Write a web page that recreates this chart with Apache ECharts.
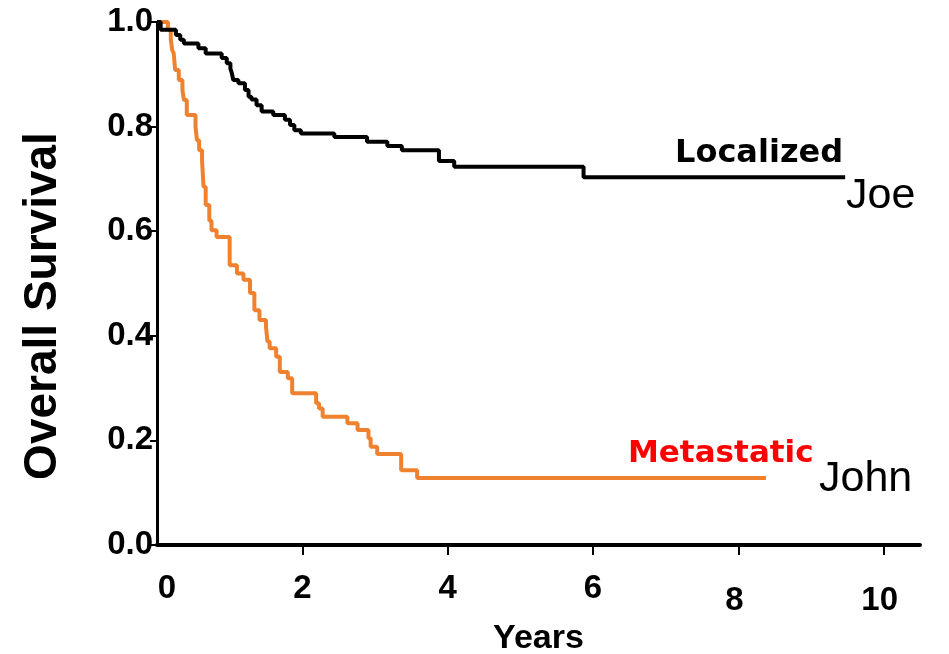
<!DOCTYPE html>
<html lang="en">
<head>
  <meta charset="UTF-8">
  <title>Overall Survival</title>
  <script src="https://cdn.jsdelivr.net/npm/echarts@6/dist/echarts.min.js"></script>
  <style>
    html, body { margin: 0; padding: 0; background: #fff; }
    #main { width: 949px; height: 654px; }
  </style>
</head>
<body>
  <div id="main"></div>
  <script>
    // Localized (Joe) - Kaplan-Meier steps
    var locTime = [0, 0.05, 0.26, 0.32, 0.37, 0.57, 0.67, 0.89, 0.96, 1.01, 1.03, 1.05, 1.12, 1.21, 1.26, 1.30, 1.37, 1.44, 1.60, 1.76, 1.83, 1.89, 1.98, 2.44, 2.89, 3.17, 3.37, 3.88, 4.09, 5.87, 9.47];
    var locSurv = [1.0, 0.985, 0.975, 0.966, 0.959, 0.950, 0.940, 0.931, 0.921, 0.911, 0.902, 0.889, 0.883, 0.870, 0.857, 0.852, 0.841, 0.829, 0.822, 0.813, 0.803, 0.793, 0.787, 0.780, 0.771, 0.763, 0.755, 0.734, 0.723, 0.703, 0.703];

    // Metastatic (John)
    var metTime = [0, 0.15, 0.19, 0.21, 0.23, 0.25, 0.30, 0.35, 0.37, 0.41, 0.53, 0.55, 0.58, 0.62, 0.64, 0.67, 0.72, 0.75, 0.82, 1.0, 1.10, 1.19, 1.28, 1.34, 1.41, 1.50, 1.52, 1.55, 1.64, 1.69, 1.80, 1.86, 2.19, 2.23, 2.28, 2.62, 2.76, 2.91, 2.94, 3.03, 3.36, 3.58, 8.38];
    var metSurv = [1.0, 0.985, 0.966, 0.946, 0.940, 0.908, 0.889, 0.870, 0.851, 0.822, 0.800, 0.774, 0.755, 0.735, 0.685, 0.650, 0.620, 0.602, 0.589, 0.535, 0.519, 0.507, 0.482, 0.449, 0.430, 0.417, 0.389, 0.376, 0.360, 0.331, 0.319, 0.290, 0.271, 0.261, 0.245, 0.233, 0.220, 0.204, 0.188, 0.174, 0.143, 0.128, 0.128];

    var xTicks = [0, 2, 4, 6, 8, 10];

    function pairs(t, s) {
      var out = [];
      for (var i = 0; i < t.length; i++) out.push([t[i], s[i]]);
      return out;
    }

    var tickFont = { fontFamily: 'Liberation Sans', fontWeight: 'bold', fontSize: 33, color: '#000' };

    var chart = echarts.init(document.getElementById('main'));
    var opt = {
      backgroundColor: '#fff',
      animation: false,
      grid: { left: 157, right: 29, top: 22, bottom: 109, outerBoundsMode: 'none' },
      xAxis: {
        type: 'value',
        min: 0,
        max: 10.5,
        interval: 2,
        name: 'Years',
        nameLocation: 'middle',
        nameGap: 60,
        nameTextStyle: { fontFamily: 'Liberation Sans', fontWeight: 'bold', fontSize: 34, color: '#000' },
        splitLine: { show: false },
        axisLine: { lineStyle: { color: '#000', width: 4 } },
        axisTick: { length: 10, lineStyle: { color: '#000', width: 2 }, customValues: [2, 4, 6, 8, 10] },
        axisLabel: {
          customValues: xTicks,
          margin: 27,
          formatter: function (v) {
            if (v === 0) return '{z|0}';
            if (v >= 8) return '{lo|' + v + '}';
            return '{n|' + v + '}';
          },
          rich: {
            n: tickFont,
            z: Object.assign({ padding: [0, 0, 0, 20] }, tickFont),
            lo: Object.assign({ padding: [12, 8, 0, 0] }, tickFont)
          }
        }
      },
      yAxis: {
        type: 'value',
        min: 0,
        max: 1,
        interval: 0.2,
        splitLine: { show: false },
        axisLine: { lineStyle: { color: '#000', width: 3 } },
        axisTick: { length: 7, lineStyle: { color: '#000', width: 2 } },
        axisLabel: Object.assign({
          margin: 4,
          formatter: function (v) { return v.toFixed(1); }
        }, tickFont)
      },
      series: [
        {
          name: 'Localized',
          type: 'line',
          step: 'end',
          showSymbol: false,
          lineStyle: { color: '#000', width: 4 },
          data: pairs(locTime, locSurv),
          z: 3
        },
        {
          name: 'Metastatic',
          type: 'line',
          step: 'end',
          showSymbol: false,
          lineStyle: { color: '#f0822f', width: 4 },
          data: pairs(metTime, metSurv),
          z: 2
        }
      ],
      graphic: [
        { type: 'text', x: 43, y: 306, rotation: Math.PI / 2, style: { text: 'Overall Survival', font: 'bold 46px "Liberation Sans"', fill: '#000', align: 'center', verticalAlign: 'middle' } },
        { type: 'text', x: 675, y: 154, style: { text: 'Localized', font: 'bold 32px "DejaVu Sans"', fill: '#000', verticalAlign: 'middle' } },
        { type: 'text', x: 846, y: 196, style: { text: 'Joe', font: '43px "Liberation Sans"', fill: '#000', verticalAlign: 'middle' } },
        { type: 'text', x: 628, y: 454, style: { text: 'Metastatic', font: 'bold 31px "DejaVu Sans"', fill: '#ff0000', verticalAlign: 'middle' } },
        { type: 'text', x: 819, y: 479, style: { text: 'John', font: '43px "Liberation Sans"', fill: '#000', verticalAlign: 'middle' } }
      ]
    };
    chart.setOption(opt);
  </script>
</body>
</html>
